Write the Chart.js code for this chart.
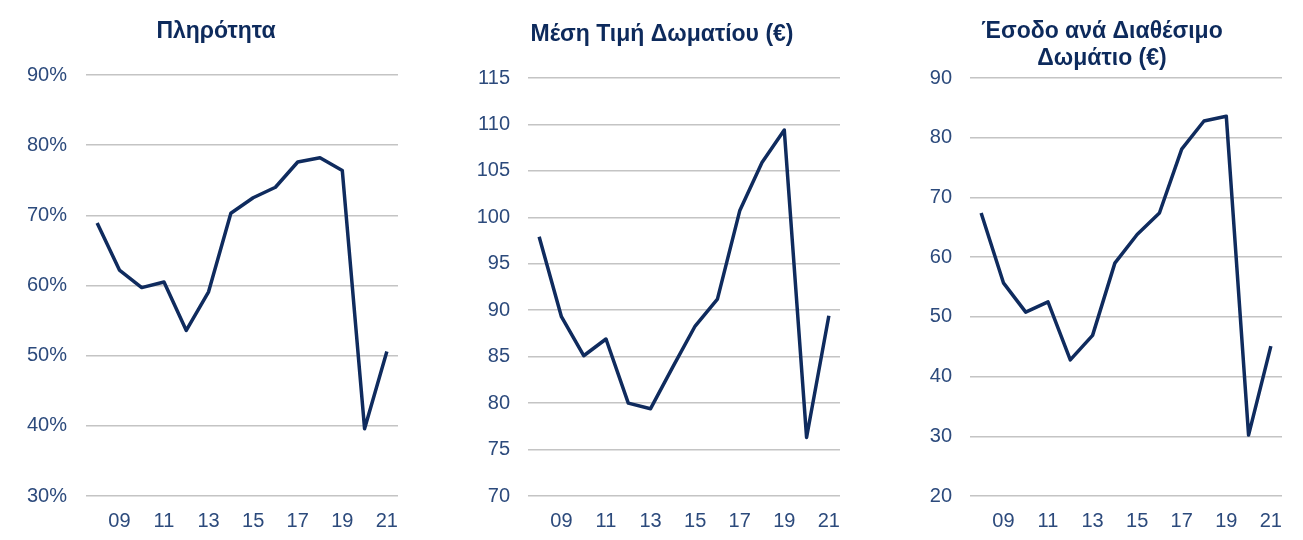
<!DOCTYPE html>
<html>
<head>
<meta charset="utf-8">
<script src="https://cdn.jsdelivr.net/npm/chart.js@4.4.0/dist/chart.umd.min.js"></script>
<style>
  html, body { margin: 0; padding: 0; background: #ffffff; }
  body { width: 1303px; height: 540px; position: relative; overflow: hidden; }
  .box { position: absolute; top: 0; height: 540px; }
  .box canvas { display: block; }
</style>
</head>
<body>
<div class="box" style="left:0px;width:417px;"><canvas id="c1"></canvas></div>
<div class="box" style="left:440px;width:421px;"><canvas id="c2"></canvas></div>
<div class="box" style="left:880px;width:419px;"><canvas id="c3"></canvas></div>
<script>
// ---- data ----
const years = ['08','09','10','11','12','13','14','15','16','17','18','19','20','21'];
const occupancy = [68.9, 62.2, 59.7, 60.5, 53.6, 59.1, 70.3, 72.5, 74.0, 77.6, 78.2, 76.4, 39.6, 50.6];
const avgRoomRate = [97.9, 89.3, 85.1, 86.9, 80.0, 79.4, 83.9, 88.3, 91.2, 100.7, 105.9, 109.4, 76.3, 89.4];
const revPar = [67.4, 55.7, 50.8, 52.5, 42.8, 46.9, 59.0, 63.8, 67.4, 78.1, 82.8, 83.6, 30.2, 45.1];
const titles = ['Πληρότητα', 'Μέση Τιμή Δωματίου (€)', ['Έσοδο ανά Διαθέσιμο', 'Δωμάτιο (€)']];

const LINE = '#0f2b5e';
const TITLE = '#0d2a5c';
const LABEL = '#2c4a7c';
const GRID = '#c4c4c4';
const FONT = "'Liberation Sans', Arial, sans-serif";

function makeChart(id, data, title, cfg) {
  return new Chart(document.getElementById(id), {
    type: 'line',
    data: {
      labels: years,
      datasets: [{
        data: data,
        yAxisID: 'y',
        borderColor: LINE,
        borderWidth: 3.5,
        pointRadius: 0,
        tension: 0,
        fill: false,
        borderJoinStyle: 'round',
        borderCapStyle: 'butt'
      }]
    },
    options: {
      responsive: true,
      maintainAspectRatio: false,
      animation: false,
      layout: { padding: { left: cfg.padLeft, right: 5, top: 0, bottom: 4 } },
      plugins: {
        legend: { display: false },
        tooltip: { enabled: false },
        title: {
          display: true,
          text: title,
          color: TITLE,
          font: { family: FONT, size: 23, weight: 'bold', lineHeight: cfg.titleLH },
          padding: { top: cfg.titleTop, bottom: cfg.titleBottom }
        }
      },
      scales: {
        x: {
          offset: true,
          grid: { display: false, drawTicks: false },
          border: { display: false },
          ticks: {
            autoSkip: false,
            maxRotation: 0,
            padding: 13,
            color: LABEL,
            font: { family: FONT, size: 20 },
            callback: function(v, i) { return (i % 2 === 1) ? years[i] : ''; }
          },
          afterFit: function(s) { s.height = 40; }
        },
        y: {
          position: 'left',
          min: cfg.min, max: cfg.max,
          grid: { color: GRID, lineWidth: 1.5, drawTicks: false },
          border: { display: false },
          ticks: {
            stepSize: cfg.step,
            padding: cfg.tickPad,
            color: LABEL,
            font: { family: FONT, size: 20 },
            callback: function(v) { return cfg.pct ? v + '%' : v; }
          },
          afterFit: function(s) { s.width = cfg.yWidth; }
        },
        yr: {
          position: 'right',
          min: cfg.min, max: cfg.max,
          grid: { display: false, drawTicks: false },
          border: { display: false },
          ticks: { display: false },
          afterFit: function(s) { s.width = cfg.rightWidth; }
        }
      }
    }
  });
}

makeChart('c1', occupancy, titles[0], {
  min: 30, max: 90, step: 10, pct: true, padLeft: 20, yWidth: 66, rightWidth: 14, tickPad: 19,
  titleLH: 1.2, titleTop: 18.2, titleBottom: 29.2
});
makeChart('c2', avgRoomRate, titles[1], {
  min: 70, max: 115, step: 5, pct: false, padLeft: 28, yWidth: 60, rightWidth: 16, tickPad: 18,
  titleLH: 1.2, titleTop: 21.2, titleBottom: 29.2
});
makeChart('c3', revPar, titles[2], {
  min: 20, max: 90, step: 10, pct: false, padLeft: 30, yWidth: 60, rightWidth: 12, tickPad: 18,
  titleLH: 1.17, titleTop: 18.5, titleBottom: 5.7
});
</script>
</body>
</html>
